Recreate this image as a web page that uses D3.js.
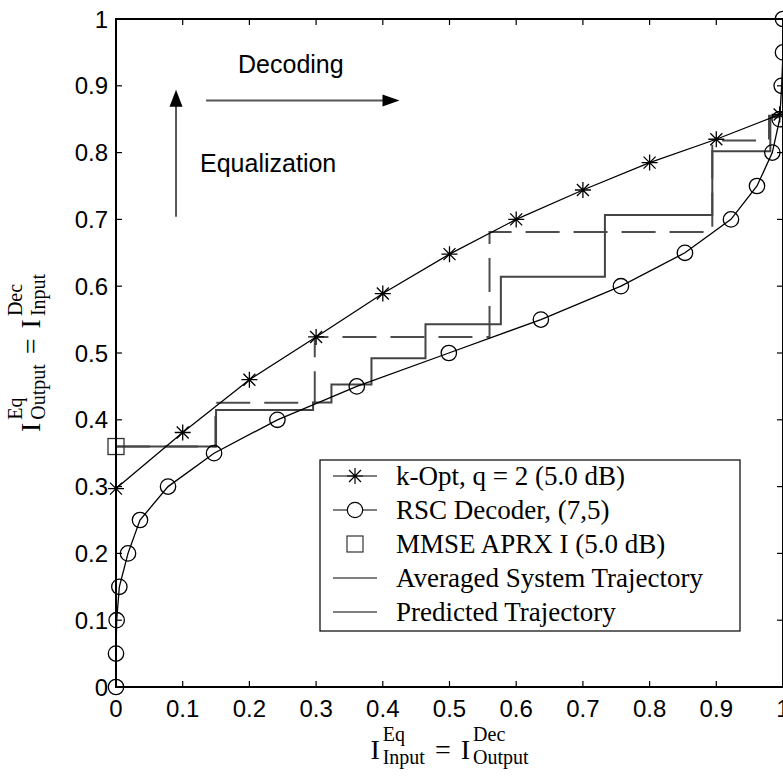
<!DOCTYPE html>
<html>
<head>
<meta charset="utf-8">
<script src="https://cdn.jsdelivr.net/npm/d3@7"></script>
<style>
  body { margin: 0; background: #fff; }
  svg { display: block; }
</style>
</head>
<body>
<div id="chart"></div>
<script>
// k-Opt equalizer transfer curve (stars)
const kOptX = [0, 0.1, 0.2, 0.3, 0.4, 0.5, 0.6, 0.7, 0.8, 0.9, 0.995];
const kOptY = [0.297, 0.381, 0.46, 0.524, 0.589, 0.648, 0.70, 0.744, 0.785, 0.820, 0.857];

// RSC decoder (7,5) transfer curve (circles), plotted with swapped axes
const rscX = [0, 0, 0.001, 0.005, 0.018, 0.036, 0.078, 0.147, 0.242, 0.361, 0.499,
              0.637, 0.757, 0.853, 0.922, 0.961, 0.984, 0.995, 0.998, 1, 1];
const rscY = [0, 0.05, 0.1, 0.15, 0.2, 0.25, 0.3, 0.35, 0.4, 0.45, 0.5,
              0.55, 0.6, 0.65, 0.7, 0.75, 0.8, 0.85, 0.9, 0.95, 1];

// MMSE approximation starting point
const mmseX = [0];
const mmseY = [0.36];

// averaged system trajectory (step after)
const avgX = [0, 0.15, 0.2955, 0.323, 0.383, 0.464, 0.577, 0.733, 0.894, 0.981, 0.995];
const avgY = [0.36, 0.4147, 0.426, 0.453, 0.492, 0.543, 0.614, 0.7066, 0.802, 0.853, 0.853];

// predicted trajectory (step after, dashed)
const predX = [0, 0.149, 0.298, 0.56, 0.894, 0.979, 0.99];
const predY = [0.36, 0.4255, 0.524, 0.681, 0.818, 0.855, 0.855];

const tickVals = [0, 0.1, 0.2, 0.3, 0.4, 0.5, 0.6, 0.7, 0.8, 0.9, 1];
const tickLabels = ["0", "0.1", "0.2", "0.3", "0.4", "0.5", "0.6", "0.7", "0.8", "0.9", "1"];

const legendLabels = ["k-Opt, q = 2 (5.0 dB)", "RSC Decoder, (7,5)", "MMSE APRX I (5.0 dB)",
                      "Averaged System Trajectory", "Predicted Trajectory"];
const legendMarks = ["star", "circle", "square", "line", "line"];

const W = 783, H = 776;
const plot = { left: 116, right: 783, top: 19, bottom: 687 };
const sansFont = "'Liberation Sans', Arial, Helvetica, sans-serif";
const serifFont = "'Liberation Serif', 'Times New Roman', Times, serif";

const svg = d3.select("#chart")
    .append("svg")
    .attr("width", W)
    .attr("height", H)
    .style("background", "#fff");

const x = d3.scaleLinear().domain([0, 1]).range([plot.left, plot.right]);
const y = d3.scaleLinear().domain([0, 1]).range([plot.bottom, plot.top]);

// ---- data marks ----
const lineGen = d3.line().x(d => x(d[0])).y(d => y(d[1]));
const stepGen = d3.line().x(d => x(d[0])).y(d => y(d[1])).curve(d3.curveStepAfter);

const kOpt = kOptX.map((v, i) => [v, kOptY[i]]);
const rsc = rscX.map((v, i) => [v, rscY[i]]);
const avg = avgX.map((v, i) => [v, avgY[i]]);
const pred = predX.map((v, i) => [v, predY[i]]);

svg.append("path")
    .attr("d", stepGen(pred))
    .attr("fill", "none")
    .attr("stroke", "#4d4d4d")
    .attr("stroke-width", 2)
    .attr("stroke-dasharray", "34,14");

svg.append("path")
    .attr("d", stepGen(avg))
    .attr("fill", "none")
    .attr("stroke", "#444")
    .attr("stroke-width", 2);

svg.append("path")
    .attr("d", lineGen(kOpt))
    .attr("fill", "none")
    .attr("stroke", "#000")
    .attr("stroke-width", 1.3);

svg.append("path")
    .attr("d", lineGen(rsc))
    .attr("fill", "none")
    .attr("stroke", "#000")
    .attr("stroke-width", 1.3);

function starPath(cx, cy) {
  const r = 8, d = 6;
  return `M${cx},${cy - r}V${cy + r}M${cx - r},${cy}H${cx + r}` +
         `M${cx - d},${cy - d}L${cx + d},${cy + d}M${cx - d},${cy + d}L${cx + d},${cy - d}`;
}

svg.selectAll(".star")
    .data(kOpt)
    .enter()
    .append("path")
    .attr("class", "star")
    .attr("d", d => starPath(x(d[0]), y(d[1])))
    .attr("stroke", "#000")
    .attr("stroke-width", 1.3)
    .attr("fill", "none");

svg.selectAll(".circ")
    .data(rsc)
    .enter()
    .append("circle")
    .attr("class", "circ")
    .attr("cx", d => x(d[0]))
    .attr("cy", d => y(d[1]))
    .attr("r", 7.7)
    .attr("fill", "none")
    .attr("stroke", "#000")
    .attr("stroke-width", 1.3);

svg.selectAll(".sq")
    .data(mmseX.map((v, i) => [v, mmseY[i]]))
    .enter()
    .append("rect")
    .attr("class", "sq")
    .attr("x", d => x(d[0]) - 8)
    .attr("y", d => y(d[1]) - 8)
    .attr("width", 16)
    .attr("height", 16)
    .attr("fill", "none")
    .attr("stroke", "#333")
    .attr("stroke-width", 1.3);

// ---- axes box ----
const axisG = svg.append("g");
axisG.append("rect")
    .attr("x", plot.left)
    .attr("y", plot.top)
    .attr("width", plot.right - plot.left)
    .attr("height", plot.bottom - plot.top)
    .attr("fill", "none")
    .attr("stroke", "#000")
    .attr("stroke-width", 2);

const tickLen = 6;
tickVals.forEach((v, i) => {
  // bottom + top ticks
  axisG.append("line").attr("x1", x(v)).attr("x2", x(v))
      .attr("y1", plot.bottom).attr("y2", plot.bottom - tickLen)
      .attr("stroke", "#000").attr("stroke-width", 1.2);
  axisG.append("line").attr("x1", x(v)).attr("x2", x(v))
      .attr("y1", plot.top).attr("y2", plot.top + tickLen)
      .attr("stroke", "#000").attr("stroke-width", 1.2);
  // left + right ticks
  axisG.append("line").attr("y1", y(v)).attr("y2", y(v))
      .attr("x1", plot.left).attr("x2", plot.left + tickLen)
      .attr("stroke", "#000").attr("stroke-width", 1.2);
  axisG.append("line").attr("y1", y(v)).attr("y2", y(v))
      .attr("x1", plot.right).attr("x2", plot.right - tickLen)
      .attr("stroke", "#000").attr("stroke-width", 1.2);

  axisG.append("text")
      .attr("x", x(v))
      .attr("y", plot.bottom + 30)
      .attr("text-anchor", "middle")
      .style("font-family", sansFont)
      .style("font-size", "24px")
      .text(tickLabels[i]);

  axisG.append("text")
      .attr("x", plot.left - 8)
      .attr("y", y(v) + 8.5)
      .attr("text-anchor", "end")
      .style("font-family", sansFont)
      .style("font-size", "24px")
      .text(tickLabels[i]);
});

// ---- annotations: Decoding / Equalization arrows ----
const ann = svg.append("g");
ann.append("line")
    .attr("x1", x(0.135)).attr("x2", x(0.425) - 16)
    .attr("y1", y(0.878)).attr("y2", y(0.878))
    .attr("stroke", "#555").attr("stroke-width", 2);
ann.append("path")
    .attr("d", `M${x(0.425)},${y(0.878)}l-17,-6v12z`)
    .attr("fill", "#000");
ann.append("line")
    .attr("x1", x(0.09)).attr("x2", x(0.09))
    .attr("y1", y(0.704)).attr("y2", y(0.894) + 16)
    .attr("stroke", "#555").attr("stroke-width", 2);
ann.append("path")
    .attr("d", `M${x(0.09)},${y(0.894)}l-6.5,17h13z`)
    .attr("fill", "#000");
ann.append("text")
    .attr("x", x(0.183)).attr("y", y(0.919))
    .style("font-family", sansFont).style("font-size", "25px")
    .text("Decoding");
ann.append("text")
    .attr("x", x(0.126)).attr("y", y(0.771))
    .style("font-family", sansFont).style("font-size", "25px")
    .text("Equalization");

// ---- legend ----
const leg = svg.append("g");
const legBox = { x: 320, y: 460, w: 420, h: 171 };
leg.append("rect")
    .attr("x", legBox.x).attr("y", legBox.y)
    .attr("width", legBox.w).attr("height", legBox.h)
    .attr("fill", "#fff").attr("stroke", "#000").attr("stroke-width", 1.2);

legendLabels.forEach((lab, i) => {
  const cy = legBox.y + 16 + i * 34;
  const sx = 355;
  const m = legendMarks[i];
  if (m !== "square") {
    leg.append("line")
        .attr("x1", 333).attr("x2", 377)
        .attr("y1", cy).attr("y2", cy)
        .attr("stroke", "#000").attr("stroke-width", 1.2);
  }
  if (m === "star") {
    leg.append("path").attr("d", starPath(sx, cy))
        .attr("stroke", "#000").attr("stroke-width", 1.2).attr("fill", "none");
  } else if (m === "circle") {
    leg.append("circle").attr("cx", sx).attr("cy", cy).attr("r", 7.7)
        .attr("fill", "#fff").attr("stroke", "#000").attr("stroke-width", 1.2);
  } else if (m === "square") {
    leg.append("rect").attr("x", sx - 8).attr("y", cy - 8)
        .attr("width", 16).attr("height", 16)
        .attr("fill", "none").attr("stroke", "#333").attr("stroke-width", 1.2);
  }
  leg.append("text")
      .attr("x", 396).attr("y", cy + 9)
      .style("font-family", serifFont)
      .style("font-size", "27px")
      .text(lab);
});

// ---- axis titles with stacked super/subscripts ----
function mathLabel(parent, parts) {
  const g = parent.append("g");
  let cx = 0;
  parts.forEach(p => {
    if (p.op) {
      const t = g.append("text").attr("x", cx + 10).attr("y", 0)
          .style("font-family", serifFont).style("font-size", "28px").text(p.op);
      cx += 10 + t.node().getComputedTextLength() + 10;
    } else {
      const t = g.append("text").attr("x", cx).attr("y", 0)
          .style("font-family", serifFont).style("font-size", "28px").text(p.base);
      cx += t.node().getComputedTextLength() + 3;
      const s1 = g.append("text").attr("x", cx).attr("y", -18)
          .style("font-family", serifFont).style("font-size", "20px").text(p.sup);
      const s2 = g.append("text").attr("x", cx).attr("y", 5)
          .style("font-family", serifFont).style("font-size", "20px").text(p.sub);
      cx += Math.max(s1.node().getComputedTextLength(), s2.node().getComputedTextLength());
    }
  });
  return { g: g, width: cx };
}

const xl = mathLabel(svg, [{ base: "I", sup: "Eq", sub: "Input" }, { op: "=" },
                            { base: "I", sup: "Dec", sub: "Output" }]);
xl.g.attr("transform", `translate(${(plot.left + plot.right) / 2 - xl.width / 2},759)`);

const yl = mathLabel(svg, [{ base: "I", sup: "Eq", sub: "Output" }, { op: "=" },
                            { base: "I", sup: "Dec", sub: "Input" }]);
yl.g.attr("transform", `translate(40,${(plot.top + plot.bottom) / 2 + yl.width / 2}) rotate(-90)`);
</script>
</body>
</html>
